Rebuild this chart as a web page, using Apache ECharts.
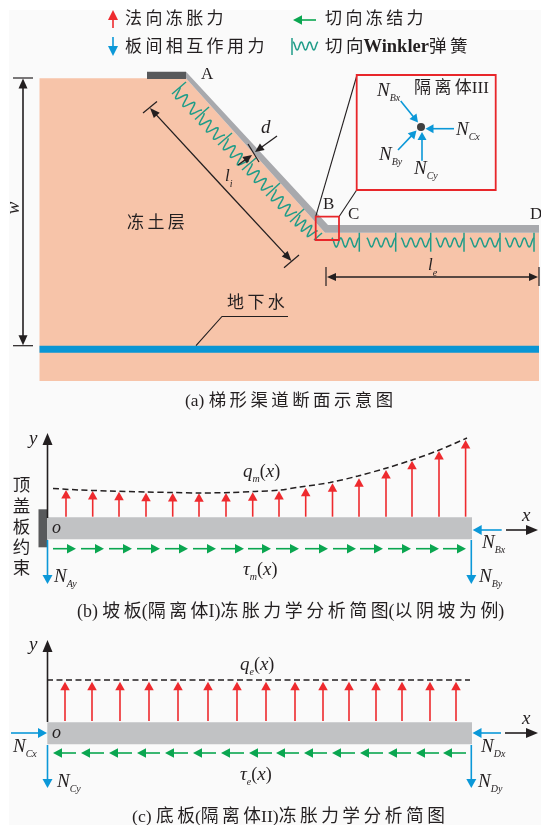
<!DOCTYPE html>
<html><head><meta charset="utf-8">
<style>html,body{margin:0;padding:0;background:#fff}#c{width:541px;height:825px}</style>
<script src="https://cdn.jsdelivr.net/npm/echarts@6/dist/echarts.min.js"></script>
</head><body><div id="c"></div>
<script>
// ---------- data (page-unit coordinates) ----------
const paperRect=[[9,10],[541,10],[541,825],[9,825]];
const soil=[[39.5,78.3],[186,78.3],[325,232.7],[539,232.7],[539,381],[39.5,381]];
const channelPlate=[[186,71.7],[328,225],[539,225],[539,232.7],[325,232.7],[186,78.3]];
const capPlate=[[147,71.7],[186,71.7],[186,79],[147,79]];
const groundwater=[[39.5,345.7],[539,345.7],[539,352.7],[39.5,352.7]];
const beamB=[[47.3,517.3],[472,517.3],[472,539.3],[47.3,539.3]];
const capB=[[38.5,509.3],[47.3,509.3],[47.3,547.3],[38.5,547.3]];
const beamC=[[47.3,722.3],[472,722.3],[472,744.3],[47.3,744.3]];

const qmX=[66,92.7,119,146,172.7,199,226,252.7,279,305.7,332.5,359,386,412,439,465.6];
const qmTip=[490,491,491.7,492.7,493,493.3,493,492.3,491,487.7,483.3,478.3,470,460.7,451,440];
const qmBase=516.7;
const qmCurveX=[53,80,110,146,172,200,230,255,280,300,330,358,385,412,438,467];
const qmCurveY=[488.5,490,491,492,492.5,493,492.5,491.5,490,487,482.5,476,468.5,460,450.5,438];
const tauMX=[53,81,109,137,165,193,221,248,276,305,333,360,388,416,443];
const tauMY=548.7, tauLen=23;
const qeX=[65,92,120,149,178,208,237,266,295,323,349,376,402,430,456];
const qeTip=681.7, qeBase=721;
const qeCurveX=[47,470], qeCurveY=[680,680];
const tauEX=[76,104,132,160,188,216,244,272,299,327,355,383,411,439,466];
const tauEY=753;

const slopeBars=[[172,94,186,82],[195,119.5,209,107],[218,145,232,133],[242,170,256,158],[266,196,280,183],[290,222,304,209],[314,240,322,233]];
const slopeWaves=[[176,91,198,114],[200,117,221,139],[224,142,245,165],[248,167,269,190],[272,193,293,216],[296,219,314,235]];
const floorBarX=[359.3,395.7,430.7,464,500,534];
const floorWaveX=[[331.7,359],[366.7,395.5],[401,430.5],[435.7,464],[470,500],[505,534]];

// legend strings
const legendLabels=['法向冻胀力','切向冻结力','板间相互作用力','切向{b|Winkler}弹簧'];
const regionLabels=['冻土层','地下水','隔离体III'];
const pointLabels=['A','B','C','D'];
const captions=['(a) 梯形渠道断面示意图','(b) 坡板(隔离体I)冻胀力学分析简图(以阴坡为例)','(c) 底板(隔离体II)冻胀力学分析简图'];
const sideLabel='顶\n盖\n板\n约\n束';
const forceLabels=['Bx','Cx','By','Cy','Ay','Bx','By','Cx','Cy','Dx','Dy'];

// ---------- colours ----------
const RED='#ee2a2e',BLUE='#0b98d8',GREEN='#0aa650',TEAL='#1f9c88',BLACK='#231f20',
      SOIL='#f7c4a9',GREY='#a8a9ad',BEAM='#c1c2c4',DARK='#58595b',WATER='#0a96d4';
const SERIF='"Liberation Serif","Noto Sans CJK SC"', TXT='#231f20';

const series=[]; let zc=1;
const base=()=>({coordinateSystem:'cartesian2d',silent:true,animation:false,z:zc++});
function poly(points,fill){
  series.push({...base(),type:'custom',data:[[0,0]],
    renderItem:(p,api)=>({type:'polygon',shape:{points:points.map(q=>api.coord(q))},style:{fill}})});
}
function lines(paths,stroke,lineWidth){
  series.push({...base(),type:'custom',data:paths.map((_,i)=>[i,0]),
    renderItem:(p,api)=>({type:'polyline',shape:{points:paths[api.value(0)].map(q=>api.coord(q))},style:{stroke,lineWidth,fill:null}})});
}
function rects(rs,stroke,lineWidth){
  series.push({...base(),type:'custom',data:rs.map((_,i)=>[i,0]),
    renderItem:(p,api)=>{const r=rs[api.value(0)],a=api.coord([r[0],r[1]]),b=api.coord([r[2],r[3]]);
      return {type:'rect',shape:{x:a[0],y:a[1],width:b[0]-a[0],height:b[1]-a[1]},style:{stroke,lineWidth,fill:null}};}});
}
function arrows(segs,color,lw,hl,hw){
  series.push({...base(),type:'custom',data:segs,
    renderItem:(p,api)=>{
      const a=api.coord([api.value(0),api.value(1)]),b=api.coord([api.value(2),api.value(3)]);
      const dx=b[0]-a[0],dy=b[1]-a[1],L=Math.hypot(dx,dy),ux=dx/L,uy=dy/L;
      const m=[b[0]-ux*hl,b[1]-uy*hl];
      return {type:'group',children:[
        {type:'line',shape:{x1:a[0],y1:a[1],x2:m[0]+ux,y2:m[1]+uy},style:{stroke:color,lineWidth:lw}},
        {type:'polygon',shape:{points:[b,[m[0]-uy*hw/2,m[1]+ux*hw/2],[m[0]+uy*hw/2,m[1]-ux*hw/2]]},style:{fill:color}}
      ]};
    }});
}
function waves(segs,amp,teeth){
  series.push({...base(),type:'custom',data:segs,
    renderItem:(p,api)=>{
      const a=api.coord([api.value(0),api.value(1)]),b=api.coord([api.value(2),api.value(3)]);
      const dx=b[0]-a[0],dy=b[1]-a[1],L=Math.hypot(dx,dy),nx=dy/L,ny=-dx/L,pts=[];
      for(let i=0;i<=48;i++){const t=i/48,o=amp*Math.cos(2*Math.PI*teeth*t);
        pts.push([a[0]+dx*t+nx*o,a[1]+dy*t+ny*o]);}
      return {type:'polyline',shape:{points:pts,smooth:0},style:{stroke:TEAL,lineWidth:1.5,fill:null}};
    }});
}
const thin=s=>s.replace(/([\u4e00-\u9fff])(?=[\u4e00-\u9fff])/g,'$1\u2009');
function text(str,x,y,size,opt={}){
  series.push({...base(),type:'custom',data:[[x,y]],
    renderItem:(p,api)=>{const c=api.coord([api.value(0),api.value(1)]);
      return {type:'text',x:c[0],y:c[1],rotation:opt.rotation||0,style:{text:opt.raw?str:thin(str),fontSize:size,
        fontFamily:SERIF,fontStyle:opt.italic?'italic':'normal',fill:TXT,lineHeight:opt.lineHeight,
        align:opt.align||'left',verticalAlign:'middle',rich:opt.rich}};
    }});
}
const mathRich={
  m:{fontSize:19,fontStyle:'italic',fontFamily:'"Liberation Serif"',fill:TXT,lineHeight:24},
  n:{fontSize:17,fontStyle:'italic',fontFamily:'"Liberation Serif"',fill:TXT,lineHeight:22},
  s:{fontSize:10,fontStyle:'italic',fontFamily:'"Liberation Serif"',fill:TXT,lineHeight:24,verticalAlign:'bottom'},
  r:{fontSize:18,fontFamily:'"Liberation Serif"',fill:TXT,lineHeight:24}
};
const boldRich={b:{fontSize:18.5,fontWeight:'bold',fontFamily:'"Liberation Serif"',fill:TXT}};
const force=(sub,x,y)=>text(`{m|N}{s|${sub}}`,x,y,19,{raw:true,rich:mathRich});
const fn=(head,sub,x,y)=>text(`{m|${head}}{s|${sub}}{r|(}{m|x}{r|)}`,x,y,19,{raw:true,rich:mathRich});

// ---------- backgrounds and plates ----------
poly(paperRect,'#fafafa');
poly(soil,SOIL); poly(groundwater,WATER); poly(channelPlate,GREY); poly(capPlate,DARK);

// ---------- springs ----------
lines(slopeBars.map(b=>[[b[0],b[1]],[b[2],b[3]]]),TEAL,1.5);
waves(slopeWaves,5.5,3);
lines(floorBarX.map(x=>[[x,232.7],[x,251.7]]),TEAL,1.5);
waves(floorWaveX.map(w=>[w[0],242.5,w[1],242.5]),4.5,3);

// ---------- panel a annotations ----------
lines([[[13,78],[33,78]],[[13,345.7],[33,345.7]]],BLACK,1.2);
arrows([[23,212,23,78.5],[23,212,23,345.2]],BLACK,1.6,10,9);
lines([[[143,113],[157,101.5]],[[284,267.7],[299,255]]],BLACK,1.2);
arrows([[221,185,150,108],[221,185,291.5,261]],BLACK,1.3,10,8);
lines([[[248,144],[259,162]]],BLACK,1.2);
arrows([[277,136,255,152],[238,165,252,155]],BLACK,1.3,9,8);
arrows([[430,277,327,277],[430,277,538,277]],BLACK,1.6,9,8);
lines([[[326,267],[326,286]],[[539,267],[539,286]]],BLACK,1.2);
lines([[[196,345.7],[222,316.5],[288,316.5]]],BLACK,1.1);
lines([[[356.7,76],[315.7,216.7]],[[356.7,190],[339,216.7]]],BLACK,1.1);
rects([[315.7,216.7,339,240]],'#e8262a',1.8);
rects([[356.7,75,495.7,190]],'#e8262a',1.8);

// ---------- isolated body III ----------
series.push({...base(),type:'scatter',data:[[421,127]],symbol:'circle',symbolSize:8,itemStyle:{color:'#111'}});
arrows([[400.7,101,418,122.5],[454,128.7,425.5,128.7],[398,150,416.5,130.5],[422,160.7,422,132]],BLUE,1.6,8,9);

// ---------- legend ----------
arrows([[113,28,113,10]],RED,1.6,10,10);
arrows([[113,37,113,56]],BLUE,1.6,10,10);
arrows([[316,20,293,20]],GREEN,1.6,9,9.5);
lines([[[292,38],[292,55]]],TEAL,1.5);
waves([[293,46,318,46]],4,3);

// ---------- panel b ----------
poly(capB,DARK); poly(beamB,BEAM);
arrows(qmX.map((x,i)=>[x,qmBase,x,qmTip[i]]),RED,1.6,8.5,9.5);
arrows(tauMX.map(x=>[x,tauMY,x+tauLen,tauMY]),GREEN,1.6,9,9.5);
arrows([[47.5,518,47.5,433]],BLACK,1.6,12,10);
arrows([[47.5,540,47.5,584],[471.3,540,471.3,584],[501.7,530,472.7,530]],BLUE,1.6,9,10);
arrows([[506,530,538,530]],BLACK,1.6,12,10);
series.push({...base(),type:'line',data:qmCurveX.map((x,i)=>[x,qmCurveY[i]]),smooth:0.3,showSymbol:false,
  lineStyle:{color:BLACK,width:1.5,type:[6,3.5]}});

// ---------- panel c ----------
poly(beamC,BEAM);
arrows(qeX.map(x=>[x,qeBase,x,qeTip]),RED,1.6,8.5,9.5);
arrows(tauEX.map(x=>[x,tauEY,x-tauLen,tauEY]),GREEN,1.6,9,9.5);
arrows([[47.5,722,47.5,640]],BLACK,1.6,12,10);
arrows([[47.5,745,47.5,788],[471.3,745,471.3,788],[501,733,472.5,733],[11,733,47,733]],BLUE,1.6,9,10);
arrows([[505,733,538,733]],BLACK,1.6,12,10);
series.push({...base(),type:'line',data:qeCurveX.map((x,i)=>[x,qeCurveY[i]]),showSymbol:false,
  lineStyle:{color:BLACK,width:1.5,type:[6,3.5]}});

// ---------- text ----------
text(legendLabels[0],125,20,17); text(legendLabels[1],325,20,17);
text(legendLabels[2],125,48,17); text(thin(legendLabels[3]),325,47,17.5,{raw:true,rich:boldRich});
text(regionLabels[0],127,224,17); text(regionLabels[1],227,304,17); text(regionLabels[2],414,89,17);
text(pointLabels[0],201,75,17); text(pointLabels[1],323,205,17); text(pointLabels[2],348,215,17); text(pointLabels[3],530,215,17);
text(captions[0],185,401.7,17.4); text(captions[1],77,612,17.9); text(captions[2],132,817,17.7);
text(sideLabel,21.5,528,17.5,{raw:true,lineHeight:20.8,align:'center'});
text('w',14,208,19,{italic:true,rotation:Math.PI/2,align:'center'});
text('d',261,128,19,{italic:true});
text('{n|l}{s|i}',225,177,17,{raw:true,rich:mathRich});
text('{n|l}{s|e}',428,266,17,{raw:true,rich:mathRich});
force(forceLabels[0],377,91); force(forceLabels[1],456,130); force(forceLabels[2],379,155); force(forceLabels[3],414,169);
text('y',29,439,19,{italic:true}); text('o',52,528,18,{italic:true}); text('x',522,516,19,{italic:true});
force(forceLabels[4],54,577); force(forceLabels[5],482,543); force(forceLabels[6],479,577);
fn('q','m',243,472); fn('τ','m',243,570);
text('y',29,645,19,{italic:true}); text('o',52,733,18,{italic:true}); text('x',522,719,19,{italic:true});
force(forceLabels[7],13,747); force(forceLabels[8],57,782); force(forceLabels[9],481,747); force(forceLabels[10],478,782);
fn('q','e',240,665); fn('τ','e',240,775);

const chart=echarts.init(document.getElementById('c'),null,{renderer:'canvas'});
chart.setOption({
  animation:false,
  backgroundColor:'#ffffff',
  grid:{left:0,right:0,top:0,bottom:0},
  xAxis:{type:'value',min:0,max:541,show:false},
  yAxis:{type:'value',min:0,max:825,inverse:true,show:false},
  series
});
</script></body></html>
